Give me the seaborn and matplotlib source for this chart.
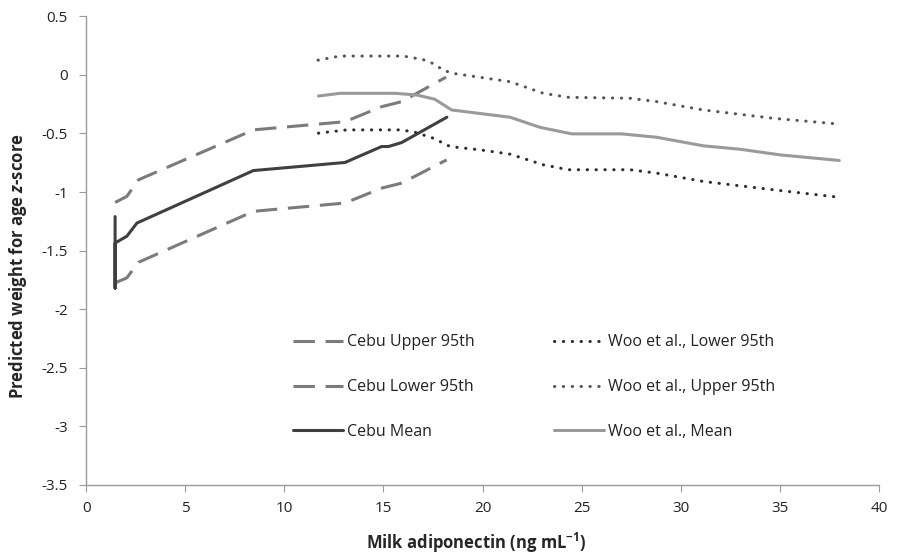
import pandas as pd
import seaborn as sns
import matplotlib.pyplot as plt

# Cebu curves
cebu_x = [1.46, 1.46, 1.46, 2.05, 2.56, 4.07, 8.44, 13.06, 14.91, 15.25, 15.92, 18.2]
cebu_mean = [-1.21, -1.82, -1.435, -1.378, -1.265, -1.15, -0.817, -0.748, -0.612, -0.612, -0.578, -0.362]

cebu_up_x = [1.46, 2.05, 2.64, 8.44, 13.06, 14.91, 15.92, 18.16]
cebu_up = [-1.089, -1.038, -0.896, -0.47, -0.40, -0.272, -0.229, -0.02]

cebu_lo_x = [1.46, 2.05, 2.64, 8.44, 13.06, 14.91, 15.92, 18.19]
cebu_lo = [-1.775, -1.733, -1.60, -1.165, -1.094, -0.967, -0.924, -0.726]

# Woo et al. curves
woo_mean_x = [11.72, 12.81, 15.59, 16.68, 17.6, 18.44, 21.39, 22.9, 24.5, 27.02, 28.79, 31.14, 32.99, 35.0, 38.0]
woo_mean = [-0.181, -0.158, -0.158, -0.172, -0.209, -0.30, -0.362, -0.448, -0.504, -0.504, -0.533, -0.606, -0.635, -0.683, -0.731]

woo_up_x = [11.7, 12.8, 16.0, 17.0, 17.6, 18.0, 18.53, 21.39, 23.07, 24.33, 27.44, 28.79, 31.14, 34.67, 37.9]
woo_up = [0.125, 0.16, 0.16, 0.13, 0.09, 0.04, 0.012, -0.059, -0.158, -0.192, -0.20, -0.229, -0.30, -0.371, -0.419]

woo_lo_x = [11.72, 13.15, 15.8, 16.5, 17.52, 18.36, 19.87, 21.39, 23.07, 24.33, 27.44, 28.79, 31.14, 34.67, 37.9]
woo_lo = [-0.498, -0.47, -0.47, -0.485, -0.541, -0.612, -0.64, -0.677, -0.768, -0.81, -0.81, -0.839, -0.91, -0.981, -1.043]

sns.set_style('white')
plt.rcParams['font.family'] = ['Open Sans', 'DejaVu Sans']
plt.rcParams['mathtext.fontset'] = 'custom'
plt.rcParams['mathtext.rm'] = 'Open Sans:bold'
plt.rcParams['mathtext.bf'] = 'Open Sans:bold'
plt.rcParams['mathtext.it'] = 'Open Sans:bold:italic'

fig, ax = plt.subplots(figsize=(9.07, 5.59), dpi=100)
fig.subplots_adjust(left=0.095, right=0.969, top=0.971, bottom=0.1324)

lw = 2.2
dash = (0, (7, 3.5))
dot = (0, (0.1, 2.8))

# order fills legend column by column
series = [
    ('Cebu Upper 95th', cebu_up_x, cebu_up, '#7b7b7b', dash),
    ('Cebu Lower 95th', cebu_lo_x, cebu_lo, '#7b7b7b', dash),
    ('Cebu Mean', cebu_x, cebu_mean, '#404040', '-'),
    ('Woo et al., Lower 95th', woo_lo_x, woo_lo, '#2e2e2e', dot),
    ('Woo et al., Upper 95th', woo_up_x, woo_up, '#555555', dot),
    ('Woo et al., Mean', woo_mean_x, woo_mean, '#9a9a9a', '-'),
]

for name, xs, ys, col, ls in series:
    df = pd.DataFrame({'x': xs, 'y': ys})
    sns.lineplot(data=df, x='x', y='y', ax=ax, sort=False, estimator=None,
                 color=col, linewidth=lw, linestyle=ls, label=name,
                 dash_capstyle='round' if ls is dot else 'butt')

ax.set_xlim(0, 40)
ax.set_ylim(-3.5, 0.5)
ax.set_xticks(range(0, 41, 5))
ax.set_yticks([0.5, 0, -0.5, -1, -1.5, -2, -2.5, -3, -3.5])
ax.set_yticklabels(['0.5', '0', '-0.5', '-1', '-1.5', '-2', '-2.5', '-3', '-3.5'])
ax.tick_params(axis='both', labelsize=11, direction='out', length=4.8,
               color='#9a9a9a', labelcolor='#222222', bottom=True, left=True)
ax.tick_params(axis='x', pad=7)
ax.tick_params(axis='y', pad=8.5)

for s in ['top', 'right']:
    ax.spines[s].set_visible(False)
for s in ['left', 'bottom']:
    ax.spines[s].set_color('#9a9a9a')
    ax.spines[s].set_linewidth(1.0)

ax.set_xlabel('Milk adiponectin (ng mL$^{-1}$)', fontsize=12, fontweight='bold')
ax.set_ylabel('Predicted weight for age $z$-score', fontsize=12, fontweight='bold')
ax.xaxis.set_label_coords(0.492, -0.098)
ax.yaxis.set_label_coords(-0.072, 0.467)

leg = ax.legend(loc='upper left', bbox_to_anchor=(0.243, 0.352), ncol=2, frameon=False,
                fontsize=11.5, handlelength=3.1, handletextpad=0.25, columnspacing=5.0,
                labelspacing=1.8)
for t in leg.get_texts():
    t.set_color('#222222')

plt.savefig('out.png')
